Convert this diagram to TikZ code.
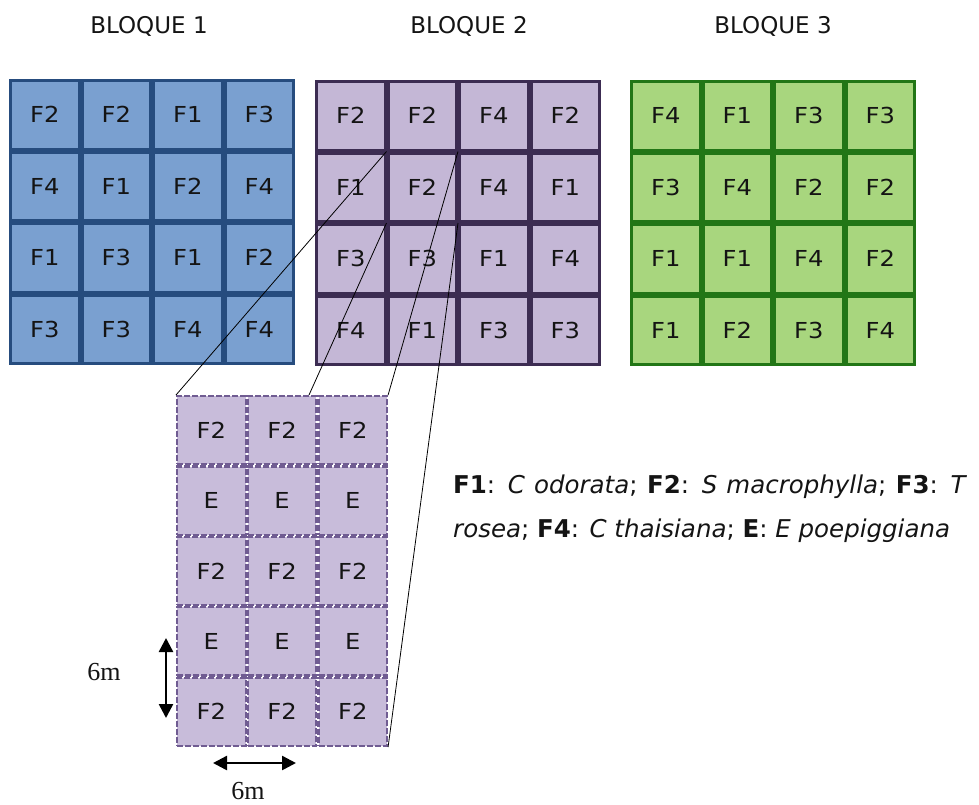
\documentclass[tikz,border=0pt]{standalone}
\usepackage{fontspec}
\usetikzlibrary{arrows.meta}
\newfontfamily\cellfont[FakeStretch=1.1]{DejaVu Sans}
\newfontfamily\titlefont{DejaVu Sans}
\newfontfamily\legendfont{DejaVu Sans}
\newfontfamily\dimfont{Liberation Serif}

\definecolor{blueFill}{RGB}{122,160,208}
\definecolor{blueLine}{RGB}{38,76,126}
\definecolor{purpleFill}{RGB}{196,183,214}
\definecolor{purpleLine}{RGB}{60,44,82}
\definecolor{greenFill}{RGB}{168,214,126}
\definecolor{greenLine}{RGB}{34,118,22}
\definecolor{plotFill}{RGB}{200,188,218}
\definecolor{plotLine}{RGB}{112,92,146}
\definecolor{ink}{RGB}{20,20,20}

\tikzset{
  cell/.style={draw, line width=3pt, minimum size=68.5pt, inner sep=0pt,
    text=ink, font=\cellfont\fontsize{22}{26}\selectfont},
  cellone/.style={cell, fill=blueFill, draw=blueLine},
  celltwo/.style={cell, fill=purpleFill, draw=purpleLine},
  cellthree/.style={cell, fill=greenFill, draw=greenLine},
  subplot/.style={draw=plotLine, fill=plotFill, line width=2.2pt,
    dash pattern=on 6pt off 2pt, minimum width=68.5pt, minimum height=68.2pt,
    inner sep=0pt, text=ink, font=\cellfont\fontsize{22}{26}\selectfont},
  blocktitle/.style={text=ink, font=\titlefont\fontsize{23}{27}\selectfont},
  legendline/.style={anchor=base west, inner sep=0pt, text=ink,
    font=\legendfont\fontsize{24.5}{28}\selectfont},
  dimlabel/.style={text=ink, font=\dimfont\fontsize{26}{30}\selectfont},
  dimarrow/.style={line width=2.5pt, {Triangle[width=14pt,length=14pt]}-{Triangle[width=14pt,length=14pt]}},
  zoomline/.style={line width=0.8pt, draw=black}
}

% one 4x4 block: style, name prefix, top-left x, top-left y, rows
\newcommand\plotblock[5]{%
  \foreach \rowlist [count=\r] in {#5} {
    \foreach \lab [count=\c] in \rowlist {
      \node[#1] (#2-\r-\c) at ({#3+71.5*(\c-0.5)},{#4+71.5*(\r-0.5)}) {\lab};
    }
  }
}

\begin{document}
\begin{tikzpicture}[x=1pt, y=-1pt]
\useasboundingbox (0,0) rectangle (979,804);

% block titles
\node[blocktitle] (t1) at (149,26) {BLOQUE 1};
\node[blocktitle] (t2) at (469,26) {BLOQUE 2};
\node[blocktitle] (t3) at (773,26) {BLOQUE 3};

% the three blocks
\plotblock{cellone}{bA}{9}{79}{{F2,F2,F1,F3},{F4,F1,F2,F4},{F1,F3,F1,F2},{F3,F3,F4,F4}}
\plotblock{celltwo}{bB}{315}{80}{{F2,F2,F4,F2},{F1,F2,F4,F1},{F3,F3,F1,F4},{F4,F1,F3,F3}}
\plotblock{cellthree}{bC}{630}{80}{{F4,F1,F3,F3},{F3,F4,F2,F2},{F1,F1,F4,F2},{F1,F2,F3,F4}}

% enlarged plot: 5 rows x 3 columns
\foreach \lab [count=\r] in {F2,E,F2,E,F2} {
  \foreach \c in {1,2,3} {
    \node[subplot] (d-\r-\c) at ({176+70.7*(\c-0.5)},{395+70.4*(\r-0.5)}) {\lab};
  }
}

% lines from block 2 to the enlarged plot
\coordinate (dtop) at (309,395);
\draw[zoomline] (bB-1-1.south east) -- (d-1-1.north west);
\draw[zoomline] (bB-2-1.south east) -- (dtop);
\draw[zoomline] (bB-1-2.south east) -- (d-1-3.north east);
\draw[zoomline] (bB-2-2.south east) -- (d-5-3.south east);

% dimensions
\coordinate (va) at (166,638);
\coordinate (vb) at (166,718);
\coordinate (ha) at (213,763);
\coordinate (hb) at (296,763);
\draw[dimarrow] (va) -- (vb);
\draw[dimarrow] (ha) -- (hb);
\node[dimlabel] (dv) at (104,672) {6m};
\node[dimlabel] (dh) at (248,791) {6m};

% legend
\node[legendline] (leg1) at (453,493) {\makebox[514pt][s]{\textbf{F1}: \textit{C odorata}; \textbf{F2}: \textit{S macrophylla}; \textbf{F3}: \textit{T}}};
\node[legendline] (leg2) at (453,537) {\textit{rosea}; \textbf{F4}: \textit{C thaisiana}; \textbf{E}: \textit{E poepiggiana}};
\end{tikzpicture}
\end{document}
